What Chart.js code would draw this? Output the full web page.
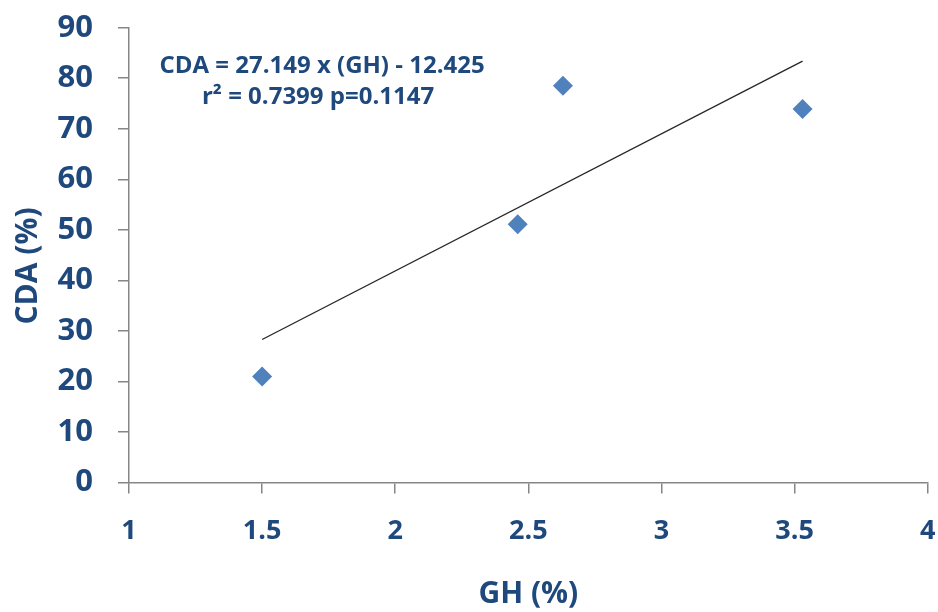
<!DOCTYPE html>
<html>
<head>
<meta charset="utf-8">
<script src="https://cdn.jsdelivr.net/npm/chart.js@4"></script>
<style>
  html, body { margin: 0; padding: 0; background: #fff; }
  #wrap { width: 938px; height: 612px; }
</style>
</head>
<body>
<div id="wrap"><canvas id="cdaChart"></canvas></div>
<script>
// Data
const ghValues = [1.5, 2.46, 2.63, 3.53];
const cdaValues = [21.0, 51.1, 78.5, 73.9];
const trendGH = [1.5, 3.53];
const trendCDA = [28.3, 83.4];
const xTicks = [1, 1.5, 2, 2.5, 3, 3.5, 4];
const yTicks = [0, 10, 20, 30, 40, 50, 60, 70, 80, 90];
const equationLines = ['CDA = 27.149 x (GH) - 12.425', 'r\u00B2 = 0.7399 p=0.1147'];
const xTitle = 'GH (%)';
const yTitle = 'CDA (%)';

const navy = '#1F497D';
const axisGray = '#868686';

// Equation text and axis titles
const labelsPlugin = {
  id: 'labels',
  afterDraw(chart) {
    const ctx = chart.ctx;
    const xs = chart.scales.x, ys = chart.scales.y;
    const area = chart.chartArea;
    ctx.save();
    ctx.fillStyle = navy;
    ctx.textAlign = 'center';
    ctx.textBaseline = 'alphabetic';
    ctx.font = 'bold 24px "Open Sans"';
    ctx.fillText(equationLines[0], xs.getPixelForValue(1.725), ys.getPixelForValue(81.0));
    ctx.fillText(equationLines[1], xs.getPixelForValue(1.71), ys.getPixelForValue(74.9));

    ctx.font = 'bold 30px "Open Sans"';
    ctx.fillText(xTitle, (area.left + area.right) / 2, 603);

    ctx.translate(37, 266);
    ctx.rotate(-Math.PI / 2);
    ctx.fillText(yTitle, 0, 0);
    ctx.restore();
  }
};

// keep the plot area fixed: no extra room for overflowing tick labels
function noPad(s) {
  s.paddingTop = 0; s.paddingBottom = 0; s.paddingLeft = 0; s.paddingRight = 0;
}

new Chart(document.getElementById('cdaChart').getContext('2d'), {
  type: 'scatter',
  data: {
    datasets: [{
      data: ghValues.map((x, i) => ({ x: x, y: cdaValues[i] })),
      pointStyle: 'rectRot',
      pointRadius: 10,
      pointBackgroundColor: '#4F81BD',
      pointBorderWidth: 0,
      order: 1
    }, {
      type: 'line',
      data: trendGH.map((x, i) => ({ x: x, y: trendCDA[i] })),
      borderColor: '#262626',
      borderWidth: 1.3,
      pointRadius: 0,
      fill: false,
      order: 2
    }]
  },
  options: {
    responsive: true,
    maintainAspectRatio: false,
    animation: false,
    layout: { padding: { top: 27.7, right: 10.3, left: 0, bottom: 0 } },
    plugins: {
      legend: { display: false },
      tooltip: { enabled: false }
    },
    scales: {
      x: {
        type: 'linear',
        min: 1,
        max: 4,
        afterBuildTicks: (s) => { s.ticks = xTicks.map(v => ({ value: v })); },
        afterFit: (s) => { s.height = 129.5; noPad(s); },
        border: { display: true, color: axisGray, width: 1.5 },
        grid: { drawOnChartArea: false, drawTicks: true, tickLength: 11, color: axisGray, lineWidth: 1.5 },
        ticks: {
          color: navy, font: { family: 'Open Sans', size: 27, weight: 'bold' }, padding: 22, maxRotation: 0,
          callback: (v) => String(v)
        }
      },
      y: {
        type: 'linear',
        min: 0,
        max: 90,
        afterBuildTicks: (s) => { s.ticks = yTicks.map(v => ({ value: v })); },
        afterFit: (s) => { s.width = 129; noPad(s); },
        border: { display: true, color: axisGray, width: 1.5 },
        grid: { drawOnChartArea: false, drawTicks: true, tickLength: 11, color: axisGray, lineWidth: 1.5 },
        ticks: {
          color: navy, font: { family: 'Open Sans', size: 31, weight: 'bold' }, padding: 25,
          callback: (v) => String(v)
        }
      }
    }
  },
  plugins: [labelsPlugin]
});
</script>
</body>
</html>
